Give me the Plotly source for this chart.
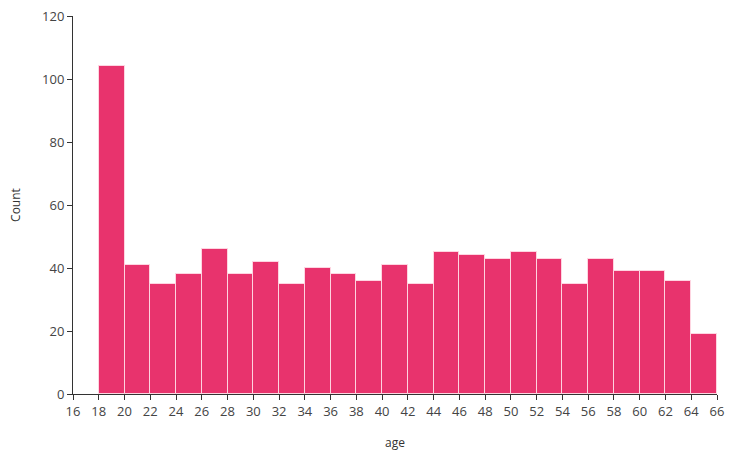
import plotly.graph_objects as go

bin_starts = [18, 20, 22, 24, 26, 28, 30, 32, 34, 36, 38, 40, 42, 44, 46, 48, 50, 52, 54, 56, 58, 60, 62, 64]
counts = [104, 41, 35, 38, 46, 38, 42, 35, 40, 38, 36, 41, 35, 45, 44, 43, 45, 43, 35, 43, 39, 39, 36, 19]
bin_size = 2

fig = go.Figure(go.Histogram(
    x=bin_starts, y=counts, histfunc="sum",
    xbins=dict(start=18, end=66, size=bin_size),
    marker=dict(color="#e8336d", line=dict(color="rgba(255,220,230,0.9)", width=1)),
))

axis_common = dict(
    showgrid=False, zeroline=False, showline=True, linecolor="#333", linewidth=1,
    ticks="outside", ticklen=5, tickcolor="#333", automargin=False,
    tickfont=dict(family="Open Sans", size=13, color="#444"),
)
fig.update_layout(
    width=735, height=462,
    margin=dict(l=73, r=18, t=16, b=68, autoexpand=False),
    plot_bgcolor="white", paper_bgcolor="white",
    bargap=0,
    showlegend=False,
    xaxis=dict(range=[16, 66], tick0=16, dtick=2,
               title=dict(text="age", font=dict(family="Open Sans", size=12, color="#333"), standoff=20),
               **axis_common),
    yaxis=dict(range=[0, 120], dtick=20,
               title=dict(text="Count", font=dict(family="Open Sans", size=12, color="#333"), standoff=18),
               **axis_common),
)
fig.write_html("out.html", config={"displayModeBar": False},
               post_script="document.body.style.margin='0';")
